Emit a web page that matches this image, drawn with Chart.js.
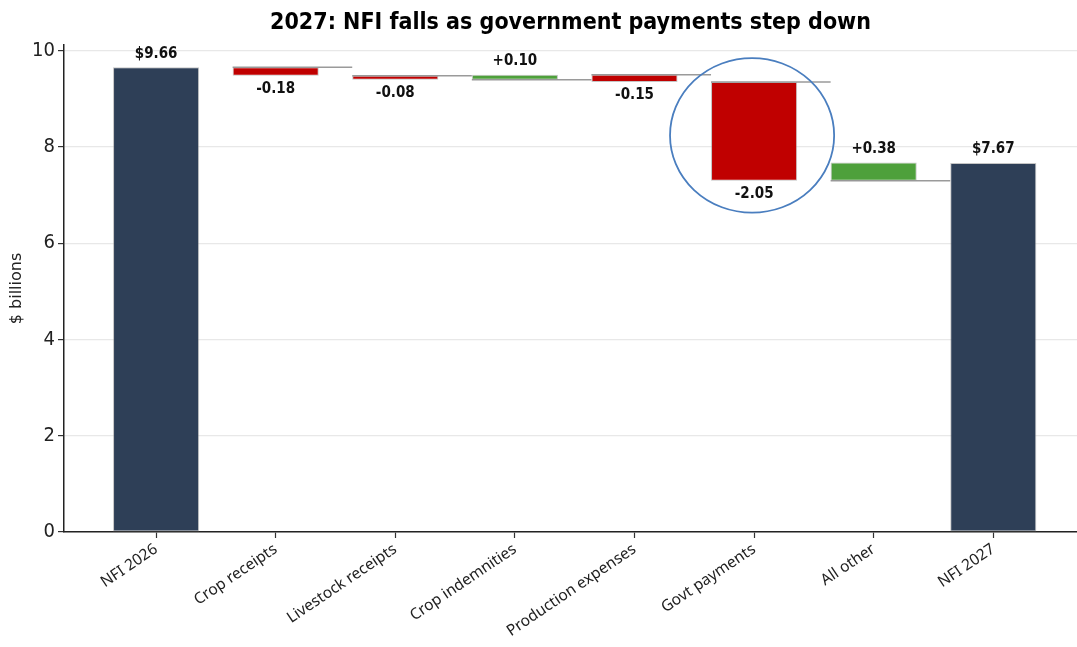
<!DOCTYPE html>
<html>
<head>
<meta charset="utf-8">
<script src="https://cdn.jsdelivr.net/npm/chart.js@4/dist/chart.umd.min.js"></script>
<style>
  html, body { margin: 0; padding: 0; background: #fff; }
  #wrap { width: 1077px; height: 647px; }
</style>
</head>
<body>
<div id="wrap"><canvas id="nfiChart" width="1077" height="647"></canvas></div>
<script>
// categories along the bottom, first and last are totals
var categories = ["NFI 2026", "Crop receipts", "Livestock receipts", "Crop indemnities",
                  "Production expenses", "Govt payments", "All other", "NFI 2027"];
var startTotal = 9.66;
var changes = [-0.18, -0.08, 0.10, -0.15, -2.05, 0.38];
var endTotal = 7.67;
var yTicks = [0, 2, 4, 6, 8, 10];
var chartTitle = "2027: NFI falls as government payments step down";

var NAVY = "#2E3F57", RED = "#C00000", GREEN = "#4EA03B";

// floating bars [from, to] and connector segments
var bars = [], colors = [], labels = [], connectors = [];
bars.push({ x: 0, y: [0, startTotal] });
colors.push(NAVY);
labels.push("$" + startTotal.toFixed(2));

var running = startTotal;
for (var i = 0; i < changes.length; i++) {
  var c = changes[i];
  var idx = i + 1;
  // connector at the level before this step, from this bar's left edge to the next one
  connectors.push({ x: idx - 0.36, y: running }, { x: idx + 0.64, y: running }, { x: idx + 0.64, y: null });
  bars.push({ x: idx, y: [running, running + c] });
  colors.push(c < 0 ? RED : GREEN);
  labels.push((c < 0 ? "-" : "+") + Math.abs(c).toFixed(2));
  running += c;
}
bars.push({ x: categories.length - 1, y: [0, endTotal] });
colors.push(NAVY);
labels.push("$" + endTotal.toFixed(2));

// title centred over the plot area rather than the whole canvas
var plotTitle = {
  id: "plotTitle",
  afterDraw: function (chart) {
    var ctx = chart.ctx, a = chart.chartArea;
    ctx.save();
    ctx.font = "bold 23px 'DejaVu Sans Condensed', 'DejaVu Sans'";
    ctx.fillStyle = "#000";
    ctx.textAlign = "center";
    ctx.textBaseline = "middle";
    ctx.fillText(chartTitle, (a.left + a.right) / 2, 23);
    ctx.restore();
  }
};

// value labels over / under each bar
var barLabels = {
  id: "barLabels",
  afterDatasetsDraw: function (chart) {
    var ctx = chart.ctx;
    var meta = chart.getDatasetMeta(0);
    ctx.save();
    ctx.font = "bold 15px 'DejaVu Sans Condensed', 'DejaVu Sans'";
    ctx.fillStyle = "#111";
    ctx.textAlign = "center";
    meta.data.forEach(function (el, k) {
      var top = Math.min(el.y, el.base), bottom = Math.max(el.y, el.base);
      var isDrop = k > 0 && k < categories.length - 1 && changes[k - 1] < 0;
      if (isDrop) {
        ctx.textBaseline = "top";
        ctx.fillText(labels[k], el.x, bottom + 6);
      } else {
        ctx.textBaseline = "bottom";
        ctx.fillText(labels[k], el.x, top - 6);
      }
    });
    ctx.restore();
  }
};

// ring around the government payments drop
var callout = {
  id: "callout",
  afterDatasetsDraw: function (chart) {
    var el = chart.getDatasetMeta(0).data[5];
    var top = Math.min(el.y, el.base), bottom = Math.max(el.y, el.base);
    var ctx = chart.ctx;
    ctx.save();
    ctx.strokeStyle = "#4A7EBF";
    ctx.lineWidth = 1.8;
    ctx.beginPath();
    ctx.ellipse(el.x - 2, (top + bottom) / 2 + 4, el.width / 2 + 39, (bottom - top) / 2 + 28, 0, 0, Math.PI * 2);
    ctx.stroke();
    ctx.restore();
  }
};

new Chart(document.getElementById("nfiChart"), {
  type: "bar",
  data: {
    datasets: [
      {
        type: "bar",
        data: bars,
        backgroundColor: colors,
        borderColor: "rgba(150,150,150,0.55)",
        borderWidth: 1,
        borderSkipped: false,
        barPercentage: 0.72,
        categoryPercentage: 1,
        order: 1
      },
      {
        type: "line",
        data: connectors,
        borderColor: "#9a9a9a",
        borderWidth: 1.5,
        pointRadius: 0,
        spanGaps: false,
        order: 2
      }
    ]
  },
  options: {
    responsive: false,
    animation: false,
    layout: { padding: { top: 45, left: 0, right: 0, bottom: 0 } },
    plugins: {
      legend: { display: false },
      tooltip: { enabled: false },
      title: { display: false }
    },
    scales: {
      x: {
        type: "linear",
        min: -0.77,
        max: 7.7,
        offset: false,
        afterFit: function (s) { s.height = 115; },
        afterBuildTicks: function (s) {
          s.ticks = categories.map(function (_, k) { return { value: k }; });
        },
        ticks: {
          autoSkip: false,
          minRotation: 34,
          maxRotation: 34,
          padding: 2,
          color: "#222",
          font: { family: "'Noto Sans', 'Open Sans'", size: 15.5 },
          callback: function (v) { return categories[v]; }
        },
        grid: { offset: false, drawOnChartArea: false, tickLength: 6, tickColor: "#333", tickWidth: 1.2 },
        border: { color: "#222", width: 1.5 }
      },
      y: {
        min: 0,
        max: 10.12,
        afterFit: function (s) { s.width = 64; },
        afterBuildTicks: function (s) {
          s.ticks = yTicks.map(function (v) { return { value: v }; });
        },
        ticks: {
          color: "#222",
          padding: 3,
          font: { family: "'DejaVu Sans Condensed', 'DejaVu Sans'", size: 20 }
        },
        grid: { color: "#e8e8e8", lineWidth: 1.2, tickLength: 6, tickColor: "#333", tickWidth: 1.2 },
        border: { color: "#222", width: 1.5 },
        title: {
          display: true,
          text: "$ billions",
          color: "#222",
          font: { family: "'DejaVu Sans'", size: 16 },
          padding: { top: 7, bottom: 0 }
        }
      }
    }
  },
  plugins: [plotTitle, barLabels, callout]
});
</script>
</body>
</html>
